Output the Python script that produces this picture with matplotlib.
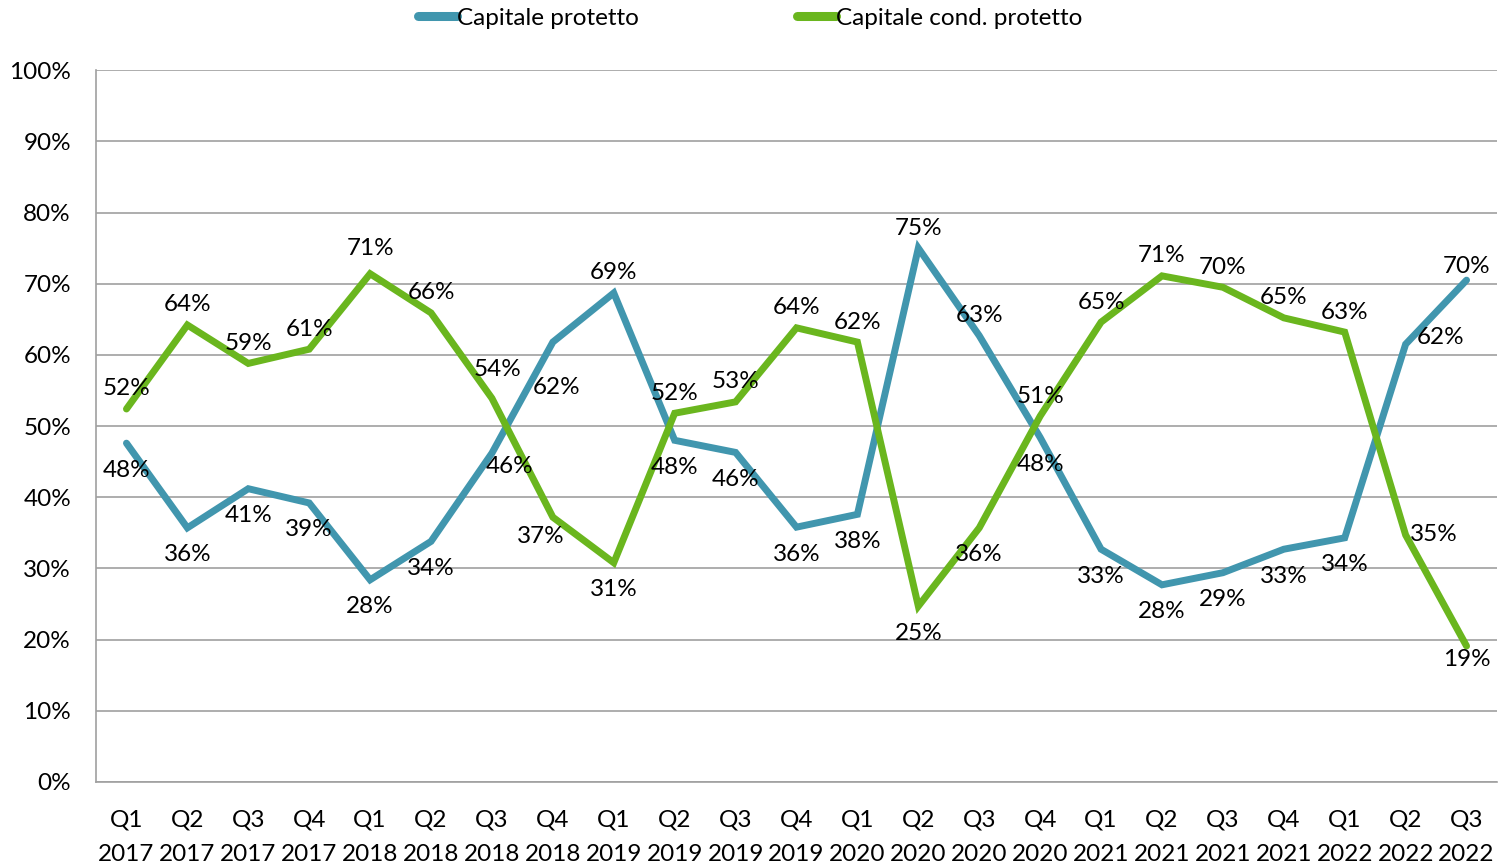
import numpy as np
import matplotlib.pyplot as plt

plt.rcParams['font.family'] = ['Lato', 'DejaVu Sans']

# trimestri
quarters = ['Q1', 'Q2', 'Q3', 'Q4'] * 5 + ['Q1', 'Q2', 'Q3']
years = ['2017'] * 4 + ['2018'] * 4 + ['2019'] * 4 + ['2020'] * 4 + ['2021'] * 4 + ['2022'] * 3
labels = [q + '\n' + y for q, y in zip(quarters, years)]

# quote (%)
protetto = [47.6, 35.7, 41.2, 39.2, 28.4, 33.8, 46.2, 61.8, 68.7, 48.0, 46.3, 35.8,
            37.6, 75.0, 62.7, 48.4, 32.7, 27.7, 29.4, 32.7, 34.3, 61.5, 70.5]
cond_protetto = [52.4, 64.2, 58.8, 60.8, 71.4, 65.9, 53.9, 37.2, 30.8, 51.8, 53.4, 63.8,
                 61.8, 24.7, 35.7, 51.4, 64.6, 71.1, 69.5, 65.2, 63.2, 34.7, 19.1]

BLUE = '#4196AE'
GREEN = '#6AB61E'

fig = plt.figure(figsize=(15, 8.66), dpi=100)
ax = fig.add_axes([0.064, 0.097, 0.934, 0.822])

x = np.arange(len(labels))
ax.plot(x, protetto, color=BLUE, lw=5, solid_joinstyle='miter', solid_capstyle='round',
        label='Capitale protetto', zorder=3)
ax.plot(x, cond_protetto, color=GREEN, lw=5, solid_joinstyle='miter', solid_capstyle='round',
        label='Capitale cond. protetto', zorder=3)

# etichette: sopra la serie piu' alta, sotto quella piu' bassa (offset in pixel)
special = {('b', 7): (4, -45), ('b', 21): (35, 7), ('g', 21): (28, 0), ('g', 7): (-12, -19),
           ('b', 6): (18, -13), ('g', 6): (6, 29), ('g', 22): (0, -13), ('b', 22): (0, 14),
           ('g', 4): (0, 25)}
for key, s, o in (('b', protetto, cond_protetto), ('g', cond_protetto, protetto)):
    for i, (v, w) in enumerate(zip(s, o)):
        dx, dy = (0, 20) if v > w else (0, -27)
        dx, dy = special.get((key, i), (dx, dy))
        ax.annotate('%d%%' % round(v), (i, v), xytext=(dx * 0.72, dy * 0.72),
                    textcoords='offset points', ha='center', va='center', fontsize=17.5,
                    color='black', zorder=4)

ax.set_xlim(-0.5, len(labels) - 0.5)
ax.set_ylim(0, 100)
ax.set_yticks(np.arange(0, 101, 10))
ax.set_yticklabels(['%d%%' % t for t in range(0, 101, 10)])
ax.set_xticks(x)
ax.set_xticklabels(labels, linespacing=1.75)
ax.tick_params(axis='both', length=0, labelsize=17.5)
ax.tick_params(axis='x', pad=20)
ax.tick_params(axis='y', pad=18)
ax.grid(axis='y', color='#a0a0a0', lw=1.2)
ax.set_axisbelow(True)
for side in ('top', 'right'):
    ax.spines[side].set_visible(False)
for side in ('left', 'bottom'):
    ax.spines[side].set_color('#a0a0a0')
    ax.spines[side].set_linewidth(1.2)

leg = fig.legend(loc='center', bbox_to_anchor=(0.5, 0.979), ncol=2, frameon=False, fontsize=17.5,
                 handlelength=1.6, handletextpad=0.0, columnspacing=6.5)
for h in leg.get_lines():
    h.set_linewidth(6.5)

fig.savefig('out.png', dpi=100)
